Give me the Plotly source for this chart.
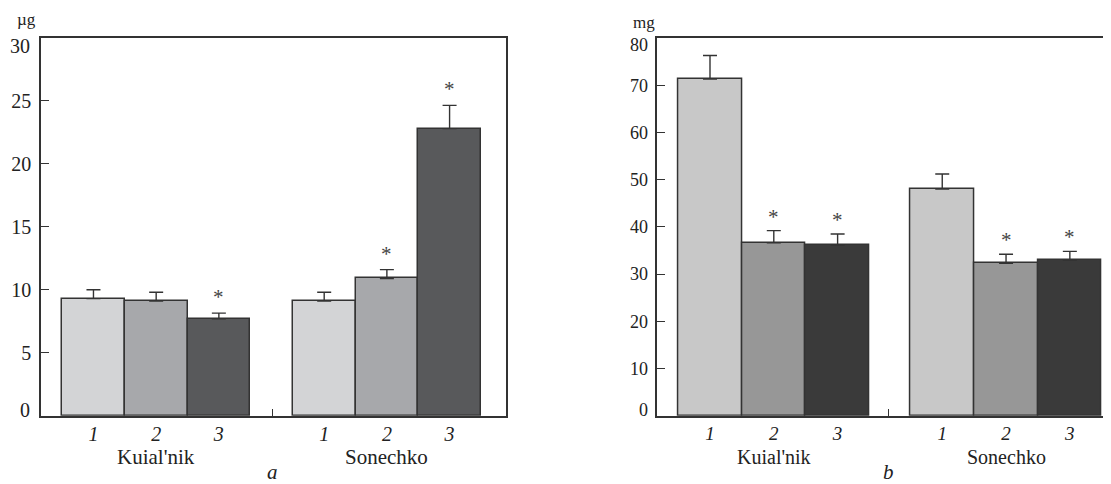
import plotly.graph_objects as go

# ---------------- data ----------------
groups = ["Kuial'nik", "Sonechko"]
bar_labels = ["1", "2", "3"]

# panel a (µg)
a_kuial = [9.3, 9.1, 7.7]
a_kuial_err = [0.7, 0.7, 0.45]
a_sonech = [9.1, 10.9, 22.8]
a_sonech_err = [0.7, 0.7, 1.85]
a_kuial_sig = [False, False, True]
a_sonech_sig = [False, True, True]

# panel b (mg)
b_kuial = [71.3, 36.6, 36.1]
b_kuial_err = [5.0, 2.6, 2.4]
b_sonech = [48.0, 32.3, 32.9]
b_sonech_err = [3.2, 1.9, 1.9]
b_kuial_sig = [False, True, True]
b_sonech_sig = [False, True, True]

a_ticks = [0, 5, 10, 15, 20, 25, 30]
b_ticks = [0, 10, 20, 30, 40, 50, 60, 70, 80]

# ---------------- style ----------------
FONT = "Liberation Serif"
EDGE = "#333333"
TXT = "#222222"
a_colors = ["#d3d4d6", "#a7a8ab", "#58595b"]
b_colors = ["#c8c8c8", "#979797", "#3a3a3a"]

# the page body has an 8px margin; the figure is sized to end at the window edge
OFF = 8
W, H = 1111 - OFF, 484 - OFF
def px_x(p): return (p - OFF) / W
def px_y(p): return 1 - (p - OFF) / H

fig = go.Figure()
ann = []

def add_panel(xa, ya, kv, ke, sv, se, ks, ss, colors, s_off, star_size, star_shift):
    kx = [1, 2, 3]
    sx = [s_off + i for i in range(3)]
    xs = kx + sx
    vals = kv + sv
    errs = ke + se
    sig = ks + ss
    cols = colors + colors
    fig.add_trace(go.Bar(
        x=xs, y=vals, width=1.0, xaxis=xa, yaxis=ya,
        marker=dict(color=cols, line=dict(color=EDGE, width=1.5)),
        error_y=dict(type="data", array=errs, arrayminus=[0] * 6, symmetric=False,
                     width=7, thickness=1.4, color=EDGE),
        showlegend=False, hoverinfo="skip"))
    for x, v, e, s in zip(xs, vals, errs, sig):
        if s:
            ann.append(dict(x=x, y=v + e, xref=xa, yref=ya, text="*", showarrow=False,
                            xanchor="center", yanchor="bottom", yshift=star_shift,
                            font=dict(family=FONT, size=star_size, color="#444")))
    return xs

xs_a = add_panel("x", "y", a_kuial, a_kuial_err, a_sonech, a_sonech_err,
                 a_kuial_sig, a_sonech_sig, a_colors, 4.68, 21, 2)
xs_b = add_panel("x2", "y2", b_kuial, b_kuial_err, b_sonech, b_sonech_err,
                 b_kuial_sig, b_sonech_sig, b_colors, 4.64, 21, 0)

ydom = [px_y(415.7), px_y(38)]

axis_common = dict(showline=True, linecolor=EDGE, linewidth=1.5, showgrid=False,
                   zeroline=False, automargin=False)

tick_text = ["<i>%s</i>" % t for t in bar_labels] * 2

def y_labels(ticks):
    # end labels are set slightly inward (as in the original typesetting)
    return [""] + [str(t) for t in ticks[1:-1]] + [""]

fig.update_layout(
    width=W, height=H, margin=dict(l=0, r=0, t=0, b=0, autoexpand=False),
    paper_bgcolor="white", plot_bgcolor="white", bargap=0,
    font=dict(family=FONT, color=TXT),
    xaxis=dict(domain=[px_x(41), px_x(506)], range=[0.163, 7.58], anchor="y",
               tickvals=xs_a, ticktext=tick_text, ticks="",
               tickfont=dict(size=20, family=FONT, color=TXT),
               minor=dict(tickmode="array", tickvals=[3.85], ticks="inside",
                          ticklen=7, tickwidth=1.3, tickcolor=EDGE),
               mirror=True, **axis_common),
    yaxis=dict(domain=ydom, range=[0, 30], anchor="x", tickvals=a_ticks,
               ticktext=y_labels(a_ticks),
               ticks="inside", ticklen=8, tickwidth=1.3, tickcolor=EDGE,
               tickfont=dict(size=20, family=FONT, color=TXT),
               ticklabelstandoff=4, mirror=True, **axis_common),
    xaxis2=dict(domain=[px_x(657.3), 1.0], range=[0.174, 7.285], anchor="y2",
                tickvals=xs_b, ticktext=tick_text, ticks="",
                tickfont=dict(size=19, family=FONT, color=TXT),
                minor=dict(tickmode="array", tickvals=[3.80], ticks="inside",
                           ticklen=7, tickwidth=1.3, tickcolor=EDGE),
                mirror=True, **axis_common),
    yaxis2=dict(domain=ydom, range=[0, 80], anchor="x2", tickvals=b_ticks,
                ticktext=y_labels(b_ticks),
                ticks="inside", ticklen=8, tickwidth=1.3, tickcolor=EDGE,
                tickfont=dict(size=18, family=FONT, color=TXT),
                ticklabelstandoff=4, **axis_common),
)

# end tick labels of the y axes
for yref, ticks, xr, size, top_shift in (("y", a_ticks, 31, 20, -8),
                                          ("y2", b_ticks, 648.5, 18, -7)):
    ann.append(dict(x=px_x(xr), xref="paper", y=ticks[0], yref=yref, xanchor="right",
                    yanchor="middle", yshift=6, text=str(ticks[0]), showarrow=False,
                    borderpad=0, font=dict(size=size, family=FONT, color=TXT)))
    ann.append(dict(x=px_x(xr), xref="paper", y=ticks[-1], yref=yref, xanchor="right",
                    yanchor="middle", yshift=top_shift, text=str(ticks[-1]),
                    showarrow=False, borderpad=0,
                    font=dict(size=size, family=FONT, color=TXT)))

# group labels
for xref, xs, size in (("x", xs_a, 21), ("x2", xs_b, 20)):
    for g, cx in zip(groups, [sum(xs[:3]) / 3, sum(xs[3:]) / 3]):
        ann.append(dict(x=cx, xref=xref, y=px_y(456.5), yref="paper",
                        xanchor="center", yanchor="middle",
                        text=g, showarrow=False,
                        font=dict(size=size, family=FONT, color=TXT)))
ann.append(dict(x=3.85, xref="x", y=0, yref="paper", xanchor="center", yanchor="bottom",
                yshift=-2, text="<i>a</i>", showarrow=False,
                font=dict(size=21, family=FONT, color=TXT)))
ann.append(dict(x=3.80, xref="x2", y=0, yref="paper", xanchor="center", yanchor="bottom",
                yshift=-2, text="<i>b</i>", showarrow=False,
                font=dict(size=21, family=FONT, color=TXT)))
# units
ann.append(dict(x=px_x(26), xref="paper", y=px_y(19), yref="paper",
                xanchor="center", yanchor="middle", borderpad=0,
                text="µg", showarrow=False, font=dict(size=17, family=FONT, color=TXT)))
ann.append(dict(x=px_x(644), xref="paper", y=px_y(22), yref="paper",
                xanchor="center", yanchor="middle", borderpad=0,
                text="mg", showarrow=False, font=dict(size=17, family=FONT, color=TXT)))
fig.update_layout(annotations=ann)

fig.write_html("out.html")
